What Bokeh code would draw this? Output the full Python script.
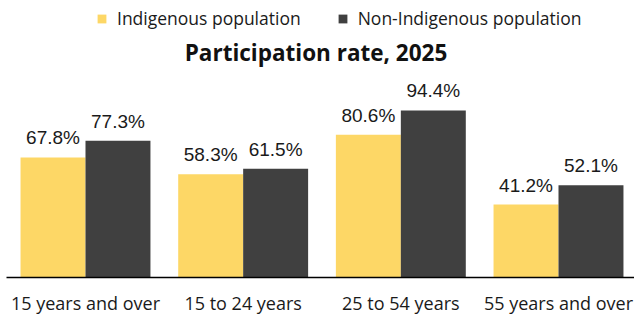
from bokeh.plotting import figure
from bokeh.models import ColumnDataSource, Range1d, LabelSet, Legend, LegendItem, Label, FixedTicker
from bokeh.core.properties import value
from bokeh.transform import dodge
from bokeh.embed import file_html
from bokeh.resources import INLINE

categories = ["15 years and over", "15 to 24 years", "25 to 54 years", "55 years and over"]
indigenous = [67.8, 58.3, 80.6, 41.2]
non_indigenous = [77.3, 61.5, 94.4, 52.1]
series_names = ["Indigenous population", "Non-Indigenous population"]
title_text = "Participation rate, 2025"

YELLOW = "#FDD766"
DARK = "#404040"
TEXT = "#1a1a1a"

xs = list(range(len(categories)))
src = ColumnDataSource(dict(
    x=xs,
    ind=indigenous,
    non=non_indigenous,
    ind_lbl=[f"{v:.1f}%" for v in indigenous],
    non_lbl=[f"{v:.1f}%" for v in non_indigenous],
))

p = figure(width=634, height=317, x_range=Range1d(-0.501, 3.482),
           y_range=Range1d(0, 156.5), output_backend="svg", toolbar_location=None,
           min_border_left=6, min_border_right=0, min_border_top=0, min_border_bottom=40)
p.outline_line_color = None
p.background_fill_color = None
p.border_fill_color = "white"
p.grid.visible = False
p.yaxis.visible = False

bw = 0.412
r1 = p.vbar(x=dodge("x", -bw / 2), top="ind", width=bw, source=src,
            fill_color=YELLOW, line_color=None)
r2 = p.vbar(x=dodge("x", bw / 2), top="non", width=bw, source=src,
            fill_color=DARK, line_color=None)

for col, lbl, off in (("ind", "ind_lbl", -bw / 2), ("non", "non_lbl", bw / 2)):
    p.add_layout(LabelSet(x=dodge("x", off), y=col, text=lbl, source=src,
                          y_offset=13, text_align="center", text_baseline="alphabetic",
                          text_font=value("Liberation Sans"), text_font_size="19px",
                          text_color=TEXT))

ax = p.xaxis[0]
ax.ticker = FixedTicker(ticks=xs)
ax.major_label_overrides = {i: c for i, c in zip(xs, categories)}
ax.major_tick_line_color = None
ax.minor_tick_line_color = None
ax.axis_line_color = "#000000"
ax.axis_line_width = 1.5
ax.major_label_text_font = "Open Sans"
ax.major_label_text_font_size = "18px"
ax.major_label_text_color = TEXT
ax.major_label_standoff = 7

legend = Legend(items=[LegendItem(label=series_names[0], renderers=[r1]),
                       LegendItem(label=series_names[1], renderers=[r2])],
                location=(90, 247), orientation="horizontal",
                glyph_width=11, glyph_height=11, label_standoff=10, spacing=36,
                padding=0, margin=0, border_line_color=None, background_fill_alpha=0,
                label_text_font="Open Sans", label_text_font_size="17.5px",
                label_text_color=TEXT, label_height=20)
p.add_layout(legend)

p.add_layout(Label(x=1.462, y=127, text=title_text, text_align="center",
                   text_baseline="alphabetic", text_font="Open Sans", text_font_style="bold",
                   text_font_size="22.5px", text_color="#111111"))

open("out.html", "w").write(file_html(p, INLINE))
